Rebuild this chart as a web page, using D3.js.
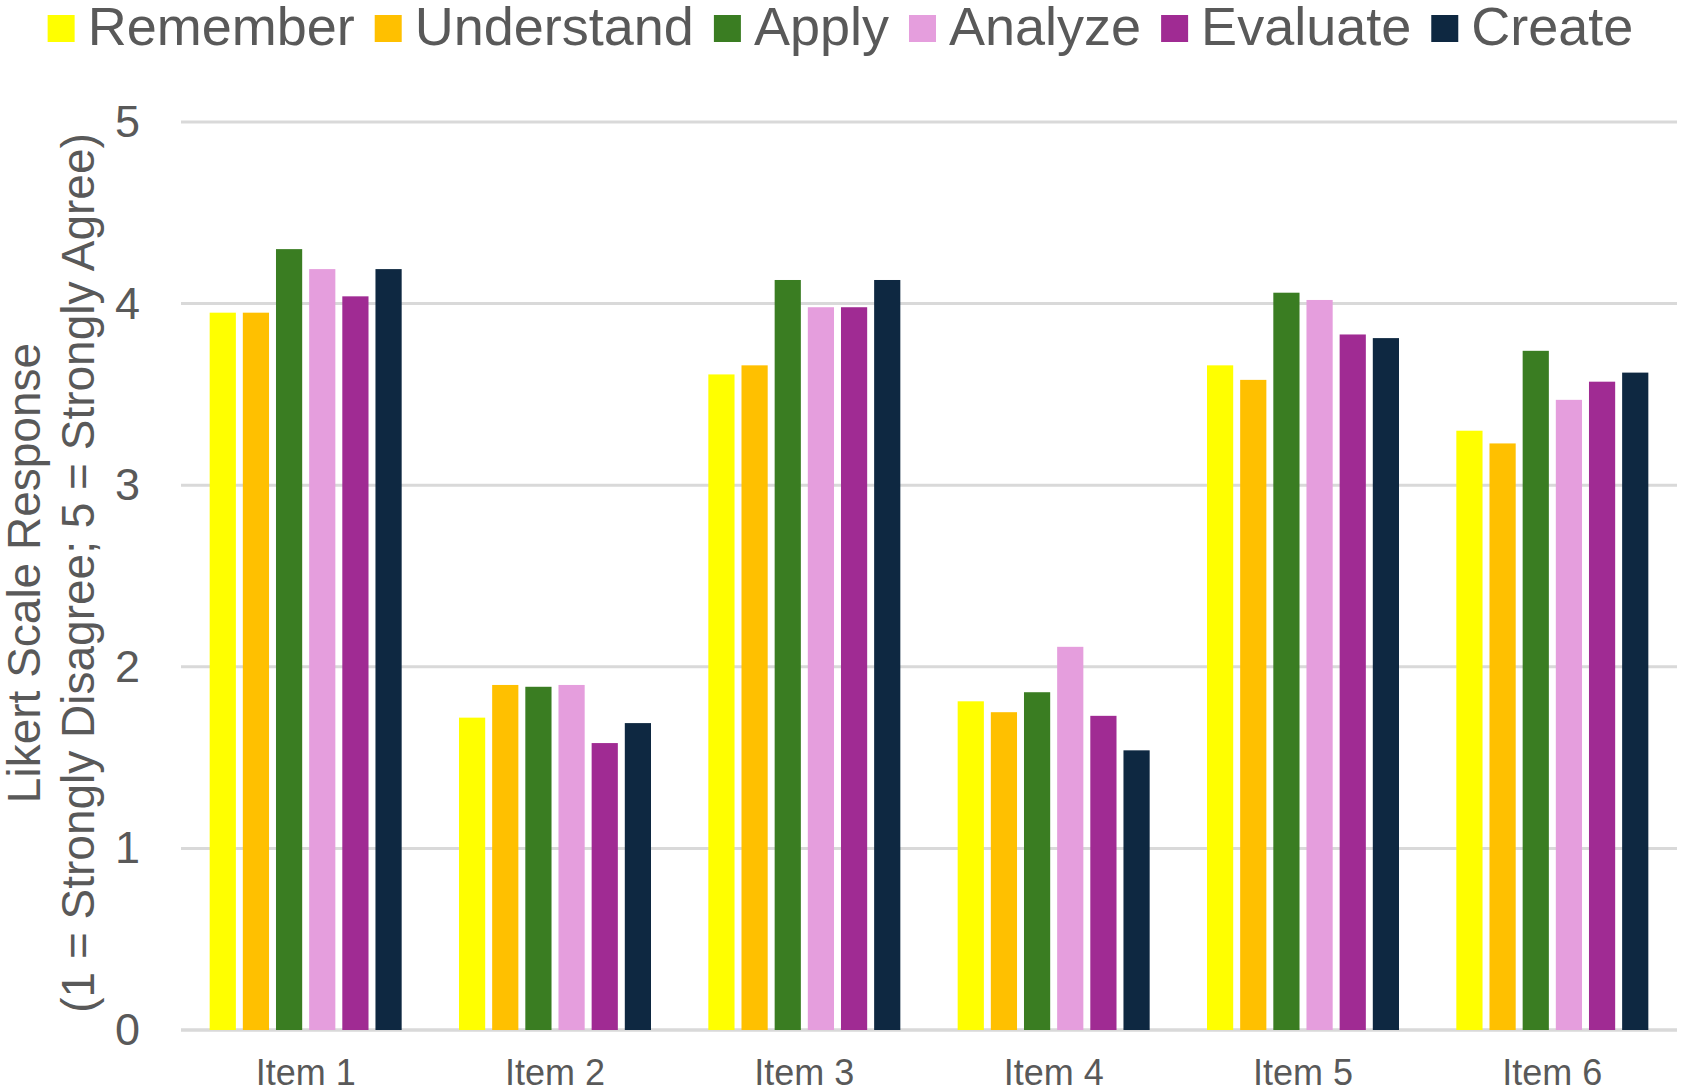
<!DOCTYPE html>
<html>
<head>
<meta charset="utf-8">
<script src="https://cdn.jsdelivr.net/npm/d3@7"></script>
<style>
    html, body { margin: 0; padding: 0; background: #fff; }
    svg { display: block; font-family: "Liberation Sans", Arial, sans-serif; }
</style>
</head>
<body>
<svg id="chart" width="1681" height="1092"></svg>
<script>
const items = ["Item 1", "Item 2", "Item 3", "Item 4", "Item 5", "Item 6"];
const series = ["Remember", "Understand", "Apply", "Analyze", "Evaluate", "Create"];
const colors = ["#FFFF00", "#FFC000", "#3A7D22", "#E59EDD", "#A02B93", "#0E2841"];

// one array per series, values per item
const remember = [3.95, 1.72, 3.61, 1.81, 3.66, 3.30];
const understand = [3.95, 1.90, 3.66, 1.75, 3.58, 3.23];
const apply = [4.30, 1.89, 4.13, 1.86, 4.06, 3.74];
const analyze = [4.19, 1.90, 3.98, 2.11, 4.02, 3.47];
const evaluate = [4.04, 1.58, 3.98, 1.73, 3.83, 3.57];
const create = [4.19, 1.69, 4.13, 1.54, 3.81, 3.62];
const yTicks = [0, 1, 2, 3, 4, 5];

const values = [remember, understand, apply, analyze, evaluate, create];

const svg = d3.select("#chart");
const textColor = "#595959";
const gridColor = "#d9d9d9";

const plot = { left: 181, right: 1677, top: 122, bottom: 1030 };

const x0 = d3.scaleBand().domain(items).range([plot.left, plot.right]);
const groupWidth = 192;
const x1 = d3
    .scaleBand()
    .domain(series)
    .range([0, groupWidth])
    .paddingInner(0.21);

const y = d3.scaleLinear().domain([0, 5]).range([plot.bottom, plot.top]);

// 网格线
svg.append("g")
    .selectAll("line")
    .data(yTicks)
    .enter()
    .append("line")
    .attr("x1", plot.left)
    .attr("x2", plot.right)
    .attr("y1", (d) => y(d))
    .attr("y2", (d) => y(d))
    .attr("stroke", gridColor)
    .attr("stroke-width", (d) => (d === 0 ? 3.5 : 3));

// y轴刻度
const yAxis = d3
    .axisLeft(y)
    .tickValues(yTicks)
    .tickFormat(d3.format("d"))
    .tickSize(0)
    .tickPadding(0);
svg.append("g")
    .attr("transform", `translate(140,0)`)
    .call(yAxis)
    .call((g) => g.select(".domain").remove())
    .selectAll("text")
    .attr("fill", textColor)
    .attr("font-size", 45)
    .attr("font-family", "Liberation Sans, Arial, sans-serif");

// x轴标签
const xAxis = d3.axisBottom(x0).tickSize(0).tickPadding(0);
svg.append("g")
    .attr("transform", `translate(0,1085)`)
    .call(xAxis)
    .call((g) => g.select(".domain").remove())
    .selectAll("text")
    .attr("dy", 0)
    .attr("fill", textColor)
    .attr("font-size", 36)
    .attr("font-family", "Liberation Sans, Arial, sans-serif");

// 柱子
const groups = svg
    .append("g")
    .selectAll("g")
    .data(items)
    .enter()
    .append("g")
    .attr(
        "transform",
        (d) => `translate(${x0(d) + (x0.bandwidth() - groupWidth) / 2},0)`
    );

groups
    .selectAll("rect")
    .data((d, i) => series.map((s, j) => ({ s, v: values[j][i], c: colors[j] })))
    .enter()
    .append("rect")
    .attr("x", (d) => x1(d.s))
    .attr("y", (d) => y(d.v))
    .attr("width", x1.bandwidth())
    .attr("height", (d) => y(0) - y(d.v))
    .attr("fill", (d) => d.c);

// y轴标题（两行）
const yTitle = svg
    .append("text")
    .attr("transform", "translate(0,573) rotate(-90)")
    .attr("text-anchor", "middle")
    .attr("fill", textColor)
    .attr("font-size", 46);
yTitle.append("tspan").attr("x", 0).attr("y", 40).text("Likert Scale Response");
yTitle
    .append("tspan")
    .attr("x", 0)
    .attr("y", 94)
    .text("(1 = Strongly Disagree; 5 = Strongly Agree)");

// 图例
const legend = svg.append("g").attr("font-size", 54).attr("fill", textColor);
let lx = 0;
series.forEach((s, i) => {
    const item = legend.append("g").attr("transform", `translate(${lx},0)`);
    item.append("rect")
        .attr("x", 0)
        .attr("y", 15)
        .attr("width", 27)
        .attr("height", 27)
        .attr("fill", colors[i]);
    const t = item.append("text").attr("x", 40).attr("y", 45).text(s);
    lx += 40 + t.node().getComputedTextLength() + 20;
});
const legendWidth = lx - 20;
legend.attr("transform", `translate(${(1681 - legendWidth) / 2},0)`);
</script>
</body>
</html>
